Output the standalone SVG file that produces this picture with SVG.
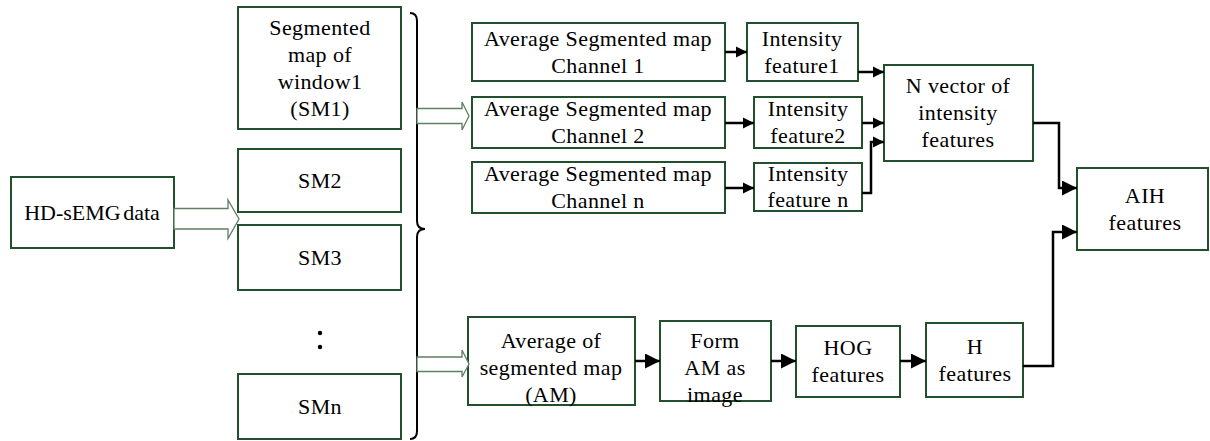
<svg xmlns="http://www.w3.org/2000/svg" width="1210" height="441" viewBox="0 0 1210 441">
  <style>
    .box { fill: #ffffff; stroke: #224f2c; stroke-width: 2; }
    .lbl { font-family: "Liberation Serif", "Times New Roman", serif; font-size: 22px; letter-spacing: 0.4px; fill: #000; text-anchor: middle; }
    .tight { letter-spacing: 0; word-spacing: -3px; }
    .wire { fill: none; stroke: #000; stroke-width: 2.5; }
    .hollow { fill: #ffffff; stroke: #5d7f62; stroke-width: 1.3; }
    .brace { fill: none; stroke: #000; stroke-width: 2; }
  </style>
  <defs>
    <marker id="arrowSm" viewBox="0 0 10 10" refX="10" refY="5" markerWidth="11" markerHeight="13" markerUnits="userSpaceOnUse" orient="auto">
      <path d="M0,0 L10,5 L0,10 z" fill="#000"/>
    </marker>
    <marker id="arrowLg" viewBox="0 0 10 10" refX="10" refY="5" markerWidth="15" markerHeight="15" markerUnits="userSpaceOnUse" orient="auto">
      <path d="M0,0 L10,5 L0,10 z" fill="#000"/>
    </marker>
  </defs>

  <!-- input -->
  <g id="hd-semg">
    <rect class="box" x="11" y="177" width="163" height="71"/>
    <text class="lbl tight" x="92" y="220">HD-sEMG data</text>
  </g>

  <!-- segmented maps per window -->
  <g id="sm1">
    <rect class="box" x="238" y="7" width="163" height="122"/>
    <text class="lbl" x="320" y="35">Segmented</text>
    <text class="lbl" x="320" y="62">map of</text>
    <text class="lbl" x="320" y="89">window1</text>
    <text class="lbl" x="320" y="116">(SM1)</text>
  </g>
  <g id="sm2">
    <rect class="box" x="238" y="149" width="163" height="63"/>
    <text class="lbl" x="320" y="188">SM2</text>
  </g>
  <g id="sm3">
    <rect class="box" x="238" y="225" width="163" height="65"/>
    <text class="lbl" x="320" y="265">SM3</text>
  </g>
  <g id="sm-dots">
    <circle cx="320" cy="333" r="2.2" fill="#000"/>
    <circle cx="320" cy="347" r="2.2" fill="#000"/>
  </g>
  <g id="smn">
    <rect class="box" x="238" y="374" width="163" height="65"/>
    <text class="lbl" x="320" y="414">SMn</text>
  </g>

  <!-- intensity branch -->
  <g id="avg-ch1">
    <rect class="box" x="472" y="23" width="253" height="58"/>
    <text class="lbl" x="598" y="46">Average Segmented map</text>
    <text class="lbl" x="598" y="73">Channel 1</text>
  </g>
  <g id="avg-ch2">
    <rect class="box" x="472" y="97" width="253" height="51"/>
    <text class="lbl" x="598" y="116">Average Segmented map</text>
    <text class="lbl" x="598" y="143">Channel 2</text>
  </g>
  <g id="avg-chn">
    <rect class="box" x="472" y="162" width="253" height="51"/>
    <text class="lbl" x="598" y="181">Average Segmented map</text>
    <text class="lbl" x="598" y="208">Channel n</text>
  </g>
  <g id="int-f1">
    <rect class="box" x="747" y="23" width="111" height="58"/>
    <text class="lbl" x="802" y="46">Intensity</text>
    <text class="lbl" x="802" y="73">feature1</text>
  </g>
  <g id="int-f2">
    <rect class="box" x="754" y="97" width="108" height="51"/>
    <text class="lbl" x="808" y="116">Intensity</text>
    <text class="lbl" x="808" y="143">feature2</text>
  </g>
  <g id="int-fn">
    <rect class="box" x="754" y="163" width="108" height="48"/>
    <text class="lbl" x="808" y="181">Intensity</text>
    <text class="lbl" x="808" y="207">feature n</text>
  </g>
  <g id="n-vector">
    <rect class="box" x="884" y="65" width="149" height="96"/>
    <text class="lbl" x="958" y="93">N vector of</text>
    <text class="lbl" x="958" y="120">intensity</text>
    <text class="lbl" x="958" y="147">features</text>
  </g>
  <g id="aih">
    <rect class="box" x="1077" y="168" width="131" height="82"/>
    <text class="lbl" x="1145" y="203">AIH</text>
    <text class="lbl" x="1145" y="230">features</text>
  </g>

  <!-- HOG branch -->
  <g id="avg-am">
    <rect class="box" x="468" y="317" width="167" height="88"/>
    <text class="lbl" x="551" y="348">Average of</text>
    <text class="lbl" x="551" y="375">segmented map</text>
    <text class="lbl" x="551" y="402">(AM)</text>
  </g>
  <g id="form-am">
    <rect class="box" x="660" y="321" width="111" height="80"/>
    <text class="lbl" x="715" y="348">Form</text>
    <text class="lbl" x="715" y="375">AM as</text>
    <text class="lbl" x="715" y="402">image</text>
  </g>
  <g id="hog">
    <rect class="box" x="796" y="326" width="104" height="71"/>
    <text class="lbl" x="848" y="355">HOG</text>
    <text class="lbl" x="848" y="382">features</text>
  </g>
  <g id="h-feat">
    <rect class="box" x="926" y="323" width="97" height="74"/>
    <text class="lbl" x="975" y="354">H</text>
    <text class="lbl" x="975" y="381">features</text>
  </g>

  <g id="connectors">
    <!-- block arrows and brace -->
    <polygon class="hollow" points="174,208.5 228,208.5 228,200 239,219 228,238.5 228,229 174,229"/>
    <path class="brace" d="M410,13 Q417,13 417,21 L417,221 Q417,229 425,229 Q417,229 417,237 L417,431 Q417,439 410,439"/>
    <polygon class="hollow" points="417,108.5 462,108.5 462,102 469,116 462,130 462,123.5 417,123.5"/>
    <polygon class="hollow" points="417,357 462,357 462,350 469,364 462,377 462,371.5 417,371.5"/>

    <!-- intensity branch -->
    <path class="wire" d="M725,52 L747,52" marker-end="url(#arrowSm)"/>
    <path class="wire" d="M725,123 L754,123" marker-end="url(#arrowSm)"/>
    <path class="wire" d="M725,188 L754,188" marker-end="url(#arrowSm)"/>
    <path class="wire" d="M858,72 L884,72" marker-end="url(#arrowSm)"/>
    <path class="wire" d="M862,123 L884,123" marker-end="url(#arrowSm)"/>
    <path class="wire" d="M862,193 L871,193 L871,142 L884,142" marker-end="url(#arrowSm)"/>
    <path class="wire" d="M1033,123 L1059,123 L1059,188 L1077,188" marker-end="url(#arrowLg)"/>

    <!-- HOG branch -->
    <path class="wire" d="M635,361 L660,361" marker-end="url(#arrowLg)"/>
    <path class="wire" d="M771,361 L796,361" marker-end="url(#arrowLg)"/>
    <path class="wire" d="M900,361 L926,361" marker-end="url(#arrowLg)"/>
    <path class="wire" d="M1023,366 L1053,366 L1053,232 L1077,232" marker-end="url(#arrowLg)"/>
  </g>
</svg>
